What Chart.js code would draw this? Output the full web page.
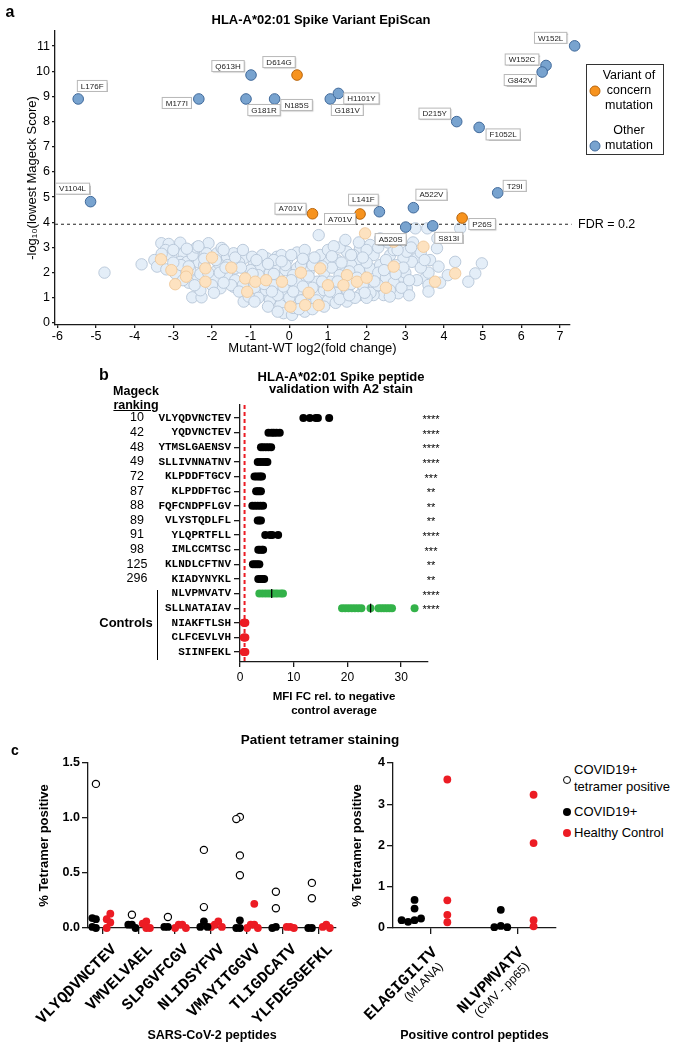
<!DOCTYPE html>
<html lang="en">
<head>
<meta charset="UTF-8">
<title>HLA-A*02:01 Spike Variant EpiScan</title>
<script src="https://cdn.jsdelivr.net/npm/chart.js"></script>
<style>
  body { margin: 0; }
  #page { position: relative; width: 681px; height: 1050px; background: #fff; overflow: hidden;
          font-family: "Liberation Sans", Arial, sans-serif; color: #000; }
  #page canvas { position: absolute; }
  .t { position: absolute; white-space: nowrap; transform: translate(-50%, -50%); }
  .l { position: absolute; white-space: nowrap; }
  .bold { font-weight: bold; }
  .dot { position: absolute; border-radius: 50%; transform: translate(-50%, -50%); box-sizing: border-box; }
  .legA { position: absolute; left: 586px; top: 64px; width: 78px; height: 91px; border: 1.3px solid #333; box-sizing: border-box; }
</style>
</head>
<body>
<div id="page">
  <canvas id="chartA" width="681" height="360" style="left:0;top:0"></canvas>
  <canvas id="chartB" width="681" height="365" style="left:0;top:360px"></canvas>
  <canvas id="chartC1" width="345" height="325" style="left:0;top:725px"></canvas>
  <canvas id="chartC2" width="215" height="325" style="left:345px;top:725px"></canvas>

  <!-- panel a -->
  <div class="t bold" style="left:10px;top:12px;font-size:16px">a</div>
  <div class="t bold" style="left:321px;top:19px;font-size:13px">HLA-A*02:01 Spike Variant EpiScan</div>
  <div class="legA"></div>
  <div class="dot" style="left:595px;top:91px;width:11px;height:11px;background:#f7931e;border:1px solid #b8650c"></div>
  <div class="t" style="left:629px;top:75px;font-size:12.5px">Variant of</div>
  <div class="t" style="left:629px;top:90px;font-size:12.5px">concern</div>
  <div class="t" style="left:629px;top:105px;font-size:12.5px">mutation</div>
  <div class="dot" style="left:595px;top:146px;width:11px;height:11px;background:#78a3cf;border:1px solid #40699a"></div>
  <div class="t" style="left:629px;top:130px;font-size:12.5px">Other</div>
  <div class="t" style="left:629px;top:145px;font-size:12.5px">mutation</div>

  <!-- panel b -->
  <div class="t bold" style="left:104px;top:375px;font-size:16px">b</div>
  <div class="t bold" style="left:136px;top:391px;font-size:12.5px">Mageck</div>
  <div class="t bold" style="left:136px;top:405px;font-size:12.5px;text-decoration:underline">ranking</div>
  <div class="t bold" style="left:341px;top:382px;font-size:13px;line-height:11.5px;text-align:center">HLA-A*02:01 Spike peptide<br>validation with A2 stain</div>
  <div class="t bold" style="left:126px;top:622px;font-size:13px">Controls</div>
  <div style="position:absolute;left:157px;top:590px;width:1.3px;height:70px;background:#000"></div>

  <!-- panel c -->
  <div class="t bold" style="left:320px;top:739px;font-size:13.5px">Patient tetramer staining</div>
  <div class="t bold" style="left:15px;top:750px;font-size:14px">c</div>
  <div class="dot" style="left:567px;top:780px;width:8px;height:8px;background:#fff;border:1.2px solid #000"></div>
  <div class="l" style="left:574px;top:762px;font-size:13px;line-height:16.6px">COVID19+<br>tetramer positive</div>
  <div class="dot" style="left:567px;top:812px;width:8px;height:8px;background:#000"></div>
  <div class="l" style="left:574px;top:803px;font-size:13px;line-height:17px">COVID19+</div>
  <div class="dot" style="left:567px;top:833px;width:8px;height:8px;background:#ec1c24"></div>
  <div class="l" style="left:574px;top:824px;font-size:13px;line-height:17px">Healthy Control</div>
</div>

<script>
// ---------- panel a: EpiScan volcano ----------
const xTicksA = [-6, -5, -4, -3, -2, -1, 0, 1, 2, 3, 4, 5, 6, 7];
const yTicksA = [0, 1, 2, 3, 4, 5, 6, 7, 8, 9, 10, 11];
const fdrCutoff = 3.92;

const otherHitLabels = ['L176F', 'M177I', 'Q613H', 'G181R', 'N185S', 'G181V', 'H1101Y', 'V1104L', 'L141F',
  'A522V', 'T29I', 'A520S', 'S813I', 'D215Y', 'F1052L', 'W152L', 'W152C', 'G842V'];
const otherHitX = [-5.46, -2.34, -0.99, -1.12, -0.38, 1.06, 1.27, -5.14, 2.33, 3.21, 5.39, 3.01, 3.71, 4.33, 4.91, 7.38, 6.64, 6.54];
const otherHitY = [8.9, 8.9, 9.85, 8.9, 8.9, 8.9, 9.12, 4.82, 4.42, 4.58, 5.17, 3.81, 3.86, 8.0, 7.77, 11.01, 10.23, 9.97];

const vocHitLabels = ['D614G', 'A701V', 'A701V', 'P26S'];
const vocHitX = [0.2, 0.6, 1.83, 4.47];
const vocHitY = [9.85, 4.34, 4.33, 4.17];

// non-significant mutations (x = log2 FC, y = -log10 score)
const bgOther = [
  [-4.78, 2.0], [-3.82, 2.33], [-3.31, 3.17], [-3.12, 3.14], [-2.82, 3.19], [-2.09, 3.17], [-3.49, 2.5], [-3.42, 2.24],
  [-3.18, 2.13], [-3.2, 2.9], [-3.05, 2.66], [-2.95, 1.97], [-2.73, 2.77], [-2.82, 2.43], [-2.64, 2.43], [-2.56, 2.1],
  [-2.47, 2.77], [-2.34, 2.41], [-2.51, 1.02], [-2.27, 1.02], [-2.38, 1.71], [-2.14, 2.77], [-2.04, 1.84], [-1.87, 2.77],
  [-1.91, 2.04], [-1.83, 2.37], [-1.91, 1.73], [-1.78, 1.38], [-1.65, 1.97], [-1.61, 2.63],
  [0.76, 3.49], [-1.75, 2.98], [-1.44, 2.77], [-1.18, 2.57], [-0.96, 2.63], [-0.92, 2.3], [-0.58, 2.57], [-0.75, 2.24],
  [-1.4, 2.17], [-1.61, 1.9], [-1.44, 1.44], [-1.18, 0.85], [-0.92, 1.24], [-0.66, 1.64], [-0.71, 1.11], [-0.41, 1.04],
  [-0.36, 2.17], [-0.32, 2.63], [-0.06, 2.5], [-0.1, 2.1], [-0.06, 1.51], [-0.23, 0.71], [-0.15, 0.39], [0.07, 0.32],
  [0.16, 0.85], [0.2, 2.17], [0.24, 1.31], [0.46, 2.57], [0.5, 2.04], [0.41, 1.64], [0.5, 1.11], [0.54, 0.71],
  [0.72, 1.64], [0.76, 1.11], [0.97, 2.43], [1.23, 2.5], [1.06, 1.64], [1.19, 1.38], [1.4, 1.77], [1.49, 2.83], [1.36, 1.11],
  [3.26, 3.76], [3.57, 3.76], [3.83, 3.36], [4.42, 3.76], [3.82, 2.97], [3.64, 2.5], [3.86, 2.24], [4.29, 2.43],
  [4.98, 2.37], [4.81, 1.97], [4.63, 1.64], [3.51, 1.77], [3.6, 1.51], [3.04, 1.38], [2.82, 1.18], [3.3, 2.57],
  [3.17, 2.43], [2.95, 2.57], [2.82, 2.04], [2.91, 1.84], [2.44, 1.11], [2.18, 1.38], [2.44, 1.64], [1.49, 0.85],
  [2.35, 3.36], [2.09, 3.1], [1.83, 2.97], [1.66, 2.7], [2.18, 2.7], [2.61, 2.7], [2.7, 2.9], [3.04, 2.83],
  [1.83, 2.43], [2.09, 2.17], [2.35, 2.3], [1.32, 2.17], [1.4, 1.44], [1.92, 1.38], [1.83, 1.11], [2.18, 1.11],
  [-1.6, 2.3], [-1.3, 2.4], [-1.0, 2.1], [-0.8, 1.9], [-0.5, 2.0], [-0.3, 1.8], [-0.1, 2.3], [0.1, 1.9],
  [0.3, 2.3], [0.6, 2.3], [0.9, 2.0], [1.1, 2.2], [1.3, 1.9], [1.6, 2.3], [1.8, 2.1], [2.0, 2.4],
  [2.3, 2.0], [2.5, 1.8], [2.7, 1.6], [-1.4, 1.7], [-1.2, 1.5], [-0.9, 1.4], [-0.6, 1.3], [-0.4, 1.5],
  [-0.2, 1.2], [0.0, 1.0], [0.2, 1.6], [0.3, 0.9], [0.6, 1.4], [0.9, 1.3], [1.0, 0.9], [1.2, 1.2],
  [1.5, 1.3], [1.7, 1.0], [1.9, 1.5], [2.1, 1.2], [2.3, 1.5], [2.6, 1.3], [-0.5, 0.9], [-0.3, 1.1],
  [0.1, 0.6], [0.4, 0.45], [0.7, 0.9], [1.2, 0.8], [-0.8, 1.0], [-1.5, 1.5], [-1.8, 2.0], [-2.2, 2.3],
  [-2.0, 1.5], [-2.3, 1.3], [-2.6, 1.6], [-2.8, 2.3], [-3.0, 2.4], [-2.5, 2.7], [-1.9, 2.5], [-1.4, 2.6],
  [-0.7, 2.7], [-0.2, 2.7], [0.2, 2.8], [0.4, 2.9], [0.8, 2.7], [1.0, 2.9], [1.3, 3.0], [1.6, 2.7],
  [1.8, 3.2], [2.0, 2.9], [2.3, 3.0], [2.5, 2.5], [2.8, 2.9], [3.2, 3.2], [3.4, 2.8], [3.0, 2.0],
  [3.3, 1.7], [3.6, 2.0], [3.9, 1.6], [4.1, 1.9], [3.6, 1.25], [2.9, 1.4], [3.1, 1.1], [2.6, 1.05],
  [-1.7, 2.9], [-2.4, 3.0], [-1.2, 2.9], [-0.4, 2.5], [1.45, 3.3], [1.15, 3.05],
  [-3.3, 2.75], [-3.0, 2.9], [-2.65, 2.95], [-2.35, 3.05], [-2.2, 2.55], [-2.6, 2.25], [-2.3, 1.95], [-2.1, 2.0],
  [-2.45, 1.5], [-2.75, 1.7], [-1.95, 1.2], [-1.7, 1.6], [-1.65, 2.2], [-1.25, 2.2], [-1.05, 1.8], [-0.85, 2.5],
  [-0.55, 2.35], [-0.2, 2.45], [0.05, 2.7], [0.35, 2.55], [0.65, 2.6], [0.85, 2.25], [1.1, 2.65], [1.35, 2.4],
  [1.55, 2.05], [1.75, 1.8], [1.6, 1.55], [1.05, 1.25], [0.85, 1.65], [0.35, 1.45], [0.1, 1.25], [-0.15, 1.45],
  [-0.45, 1.25], [-0.65, 1.55], [-1.05, 1.05], [-1.3, 1.25], [-0.9, 0.85], [-0.55, 0.65], [-0.3, 0.45], [0.25, 0.55],
  [0.6, 0.55], [0.9, 0.65], [1.3, 0.95], [1.55, 1.1], [2.0, 1.0], [2.2, 1.65], [2.45, 2.1], [2.75, 2.3],
  [2.95, 2.2], [3.1, 1.7], [3.4, 2.2], [3.5, 2.5], [3.15, 3.0], [2.55, 3.2], [1.9, 2.6], [0.5, 1.85],
  [0.05, 1.7], [-0.4, 1.95], [-0.95, 1.95], [1.25, 1.65], [1.95, 1.2], [2.75, 1.95]
];
const bgVoc = [
  [-3.32, 2.53], [-2.95, 1.54], [-3.05, 2.1], [-2.64, 2.04], [-2.67, 1.84], [-2.17, 1.64], [-2.17, 2.17], [-1.14, 1.77],
  [-1.09, 1.24], [-0.88, 1.64], [-0.19, 1.64], [0.03, 0.65], [0.41, 0.71], [0.76, 0.71], [0.8, 2.17], [1.96, 3.56],
  [2.7, 3.23], [3.47, 3.03], [4.29, 1.97], [3.77, 1.64], [2.7, 2.24], [1.49, 1.9], [1.75, 1.64], [-1.5, 2.2],
  [-0.6, 1.7], [0.5, 1.2], [1.4, 1.5], [2.0, 1.8], [1.0, 1.5], [-2.0, 2.6], [0.3, 2.0], [2.5, 1.4]
];

// ---------- panel b: A2 stain validation ----------
const rankings = [10, 42, 48, 49, 72, 87, 88, 89, 91, 98, 125, 296];
const peptidesB = ['VLYQDVNCTEV', 'YQDVNCTEV', 'YTMSLGAENSV', 'SLLIVNNATNV', 'KLPDDFTGCV', 'KLPDDFTGC',
  'FQFCNDPFLGV', 'VLYSTQDLFL', 'YLQPRTFLL', 'IMLCCMTSC', 'KLNDLCFTNV', 'KIADYNYKL',
  'NLVPMVATV', 'SLLNATAIAV', 'NIAKFTLSH', 'CLFCEVLVH', 'SIINFEKL'];
const significance = ['****', '****', '****', '****', '***', '**', '**', '**', '****', '***', '**', '**', '****', '****'];
const mfiFC = [
  [11.8, 13.0, 14.1, 14.5, 16.6],
  [5.3, 5.9, 6.3, 6.8, 7.4],
  [3.9, 4.3, 4.8, 5.3, 5.8],
  [3.3, 3.8, 4.3, 4.8, 5.1],
  [2.7, 3.1, 3.5, 3.8, 4.1],
  [3.0, 3.3, 3.6, 3.9],
  [2.3, 2.8, 3.3, 3.8, 4.3],
  [3.3, 3.6, 3.9],
  [4.7, 5.6, 6.0, 7.1],
  [3.4, 3.7, 4.1, 4.3],
  [2.4, 2.8, 3.2, 3.6],
  [3.4, 3.8, 4.2, 4.5],
  [3.6, 4.2, 4.8, 5.4, 6.0, 6.5, 7.0, 7.6, 8.0],
  [19.0, 19.6, 20.2, 20.8, 21.4, 22.0, 22.6, 24.3, 25.8, 26.3, 26.8, 27.3, 27.8, 28.3, 32.5],
  [0.7, 0.8, 0.9, 1.0],
  [0.7, 0.85, 1.0],
  [0.7, 0.85, 1.0]
];
const negCtrlLine = 0.85;
const xTicksB = [0, 10, 20, 30];

// ---------- panel c: patient tetramer staining ----------
const sarsPeptides = ['VLYQDVNCTEV', 'VMVELVAEL', 'SLPGVFCGV', 'NLIDSYFVV', 'VMAYITGGVV', 'TLIGDCATV', 'YLFDESGEFKL'];
const sarsTetPos = [[1.31], [0.12], [0.10], [0.71, 0.19], [1.01, 0.99, 0.66, 0.48], [0.33, 0.18], [0.41, 0.27]];
const sarsCovid = [[0.08, 0.09, 0.0, 0.01], [0.03, 0.03, 0.0], [0.01, 0.01], [0.06, 0.01, 0.01],
  [0.07, 0.0, 0.0], [0.01, 0.0], [0.0, 0.0]];
const sarsHealthy = [[0.13, 0.08, 0.05, 0.0], [0.06, 0.04, 0.0, 0.0], [0.03, 0.03, 0.0, 0.0], [0.06, 0.03, 0.01, 0.01],
  [0.22, 0.03, 0.03, 0.0, 0.0], [0.01, 0.01, 0.0], [0.03, 0.01, 0.0]];
const yTicksC1 = [0, 0.5, 1, 1.5];

const ctrlPeptides = ['ELAGIGILTV', 'NLVPMVATV'];
const ctrlSources = ['(MLANA)', '(CMV - pp65)'];
const ctrlCovid = [[0.19, 0.15, 0.23, 0.19, 0.47, 0.68], [0.05, 0.02, 0.02, 0.44]];
const ctrlHealthy = [[3.6, 0.67, 0.32, 0.14], [3.23, 2.06, 0.19, 0.04]];
const yTicksC2 = [0, 1, 2, 3, 4];

// label box offsets (px) for the named hits in panel a
const otherHitShift = [[14, -13], [-22, 4], [-23, -9], [18, 11], [22, 6], [17, 11], [23, 5], [-18, -13], [-16, -12],
  [18, -13], [17, -7], [-15, 12], [16, 12], [-22, -8], [24, 7], [-24, -8], [-24, -6], [-22, 8]];
const vocHitShift = [[-18, -13], [-22, -5], [-20, 5], [20, 6]];

Chart.defaults.font.family = '"Liberation Sans", Arial, sans-serif';
Chart.defaults.color = '#000';

const INK = '#1a1a1a';
const toXY = (xs, ys) => xs.map((x, i) => ({ x, y: ys[i] }));
const pairs = arr => arr.map(([x, y]) => ({ x, y }));

function axis(o) {
  return {
    type: 'linear',
    min: o.min, max: o.max, reverse: !!o.reverse,
    border: { display: true, color: INK, width: 1.3 },
    grid: { display: true, drawOnChartArea: false, drawTicks: true, tickLength: o.tickLength || 4, color: INK, lineWidth: 1.3 },
    ticks: {
      display: o.showTicks !== false, autoSkip: false, padding: o.pad ?? 2, color: '#000',
      font: o.font || { size: 12.5 }, callback: o.label || (v => v)
    },
    afterBuildTicks: s => { s.ticks = o.ticks.map(v => ({ value: v })); },
    afterFit: s => { if (o.width) s.width = o.width; if (o.height) s.height = o.height; },
    title: o.title || { display: false }
  };
}

const baseOpts = {
  responsive: false, maintainAspectRatio: false, animation: false, events: [],
  plugins: { legend: { display: false }, tooltip: { enabled: false } }
};

// ----- panel a plugins -----
const hitLabels = {
  id: 'hitLabels',
  afterDatasetsDraw(chart) {
    const { ctx } = chart;
    chart.data.datasets.forEach((ds, di) => {
      if (!ds.pointNames) return;
      chart.getDatasetMeta(di).data.forEach((pt, i) => {
        const name = ds.pointNames[i];
        const [dx, dy] = ds.labelShift[i];
        ctx.save();
        ctx.font = '8px "Liberation Sans", Arial';
        const w = ctx.measureText(name).width + 7, h = 11;
        const cx = pt.x + dx, cy = pt.y + dy;
        ctx.shadowColor = 'rgba(0,0,0,0.25)';
        ctx.shadowOffsetX = 1; ctx.shadowOffsetY = 1; ctx.shadowBlur = 1;
        ctx.fillStyle = '#fff';
        ctx.fillRect(cx - w / 2, cy - h / 2, w, h);
        ctx.shadowColor = 'transparent';
        ctx.strokeStyle = '#b8b8b8'; ctx.lineWidth = 1;
        ctx.strokeRect(cx - w / 2, cy - h / 2, w, h);
        ctx.fillStyle = '#222'; ctx.textAlign = 'center'; ctx.textBaseline = 'middle';
        ctx.fillText(name, cx, cy + 0.5);
        ctx.restore();
      });
    });
    const y = chart.scales.y.getPixelForValue(fdrCutoff);
    ctx.save();
    ctx.font = '12.5px "Liberation Sans", Arial';
    ctx.fillStyle = '#000'; ctx.textBaseline = 'middle';
    ctx.fillText('FDR = 0.2', chart.chartArea.right + 8, y);
    ctx.restore();
  }
};

new Chart(document.getElementById('chartA'), {
  type: 'scatter',
  data: {
    datasets: [
      { label: 'Other mutation', data: toXY(otherHitX, otherHitY), pointNames: otherHitLabels, labelShift: otherHitShift,
        backgroundColor: '#78a3cf', borderColor: '#40699a', borderWidth: 1, pointRadius: 5.3, order: 1, clip: false },
      { label: 'Variant of concern mutation', data: toXY(vocHitX, vocHitY), pointNames: vocHitLabels, labelShift: vocHitShift,
        backgroundColor: '#f7931e', borderColor: '#b8650c', borderWidth: 1, pointRadius: 5.3, order: 2, clip: false },
      { label: 'FDR = 0.2', type: 'line', data: [{ x: -6.06, y: fdrCutoff }, { x: 7.3, y: fdrCutoff }],
        borderColor: '#555', borderWidth: 1.3, borderDash: [3, 3], pointRadius: 0, order: 3, clip: false },
      { label: 'VOC (n.s.)', data: pairs(bgVoc), backgroundColor: '#fde2c0', borderColor: '#efc89a',
        borderWidth: 0.9, pointRadius: 5.7, order: 4, clip: false },
      { label: 'Other (n.s.)', data: pairs(bgOther), backgroundColor: '#e4eef8', borderColor: '#b5c5d7',
        borderWidth: 0.9, pointRadius: 5.7, order: 5, clip: false }
    ]
  },
  options: {
    ...baseOpts,
    layout: { padding: { left: 0, top: 31, right: 111, bottom: 0 } },
    scales: {
      x: axis({ min: -6.06, max: 7.26, ticks: xTicksA, height: 35, tickLength: 3, pad: 1,
        title: { display: true, text: 'Mutant-WT log2(fold change)', font: { size: 13 }, padding: { top: 0, bottom: 4 } } }),
      y: axis({ min: -0.08, max: 11.6, ticks: yTicksA, width: 55, tickLength: 3, pad: 2,
        title: { display: true, text: '-log\u2081\u2080(lowest Mageck Score)', font: { size: 13 }, padding: { top: 25, bottom: 0 } } })
    }
  },
  plugins: [hitLabels]
});

// ----- panel b -----
const rowColor = i => (i < 12 ? '#000' : i < 14 ? '#33b249' : '#ec1c24');
const rowPoints = rows => rows.flatMap(i => mfiFC[i].map(v => ({ x: v, y: i })));
const idx = (a, b) => Array.from({ length: b - a }, (_, k) => a + k);
const meanOf = vals => vals.reduce((s, v) => s + v, 0) / vals.length;
const means = [12, 13].map(i => ({ x: meanOf(mfiFC[i]), y: i }));

const rowNotes = {
  id: 'rowNotes',
  afterDraw(chart) {
    const { ctx } = chart;
    const y = chart.scales.y;
    ctx.save();
    ctx.fillStyle = '#000'; ctx.textAlign = 'center'; ctx.textBaseline = 'middle';
    ctx.font = '12.5px "Liberation Sans", Arial';
    rankings.forEach((r, i) => ctx.fillText(String(r), 137, y.getPixelForValue(i)));
    ctx.font = '11px "Liberation Sans", Arial';
    significance.forEach((s, i) => ctx.fillText(s, 431, y.getPixelForValue(i) + 2));
    ctx.restore();
  }
};

new Chart(document.getElementById('chartB'), {
  type: 'scatter',
  data: {
    datasets: [
      { label: 'mean', data: means, pointStyle: 'line', rotation: 90, pointRadius: 4.5, borderColor: '#000',
        borderWidth: 1.3, order: 0, clip: false },
      { label: 'Spike peptides', data: rowPoints(idx(0, 12)), backgroundColor: rowColor(0), borderWidth: 0,
        pointRadius: 4, order: 1, clip: false },
      { label: 'Positive controls', data: rowPoints([12, 13]), backgroundColor: rowColor(12), borderWidth: 0,
        pointRadius: 4, order: 2, clip: false },
      { label: 'Negative controls', data: rowPoints([14, 15, 16]), backgroundColor: rowColor(14), borderWidth: 0,
        pointRadius: 4, order: 3, clip: false },
      { label: 'Negative control average', type: 'line',
        data: [{ x: negCtrlLine, y: -0.89 }, { x: negCtrlLine, y: 16.68 }],
        borderColor: '#ec1c24', borderWidth: 2, borderDash: [4, 3], pointRadius: 0, order: 4 }
    ]
  },
  options: {
    ...baseOpts,
    layout: { padding: { left: 0, top: 45, right: 253, bottom: 0 } },
    scales: {
      x: axis({ min: 0, max: 35, ticks: xTicksB, height: 63, tickLength: 5, pad: 3, font: { size: 12 },
        title: { display: true, text: ['MFI FC rel. to negative', 'control average'],
          font: { size: 11.5, weight: 'bold' }, padding: { top: 0, bottom: 7 } } }),
      y: axis({ min: -0.89, max: 16.68, reverse: true, ticks: idx(0, 17), width: 240, tickLength: 6, pad: 3,
        font: { family: '"Liberation Mono", monospace', size: 11, weight: 'bold' },
        label: v => peptidesB[v] })
    }
  },
  plugins: [rowNotes]
});

// ----- panel c -----
function swarm(values, center, step, tol) {
  const placed = [];
  values.forEach(v => {
    const near = placed.filter(p => Math.abs(p.y - v) < tol);
    const slot = [0, -1, 1, -2, 2, -3, 3].find(k =>
      near.every(p => Math.abs(p.x - (center + k * step)) > step * 0.5)) ?? 0;
    placed.push({ x: center + slot * step, y: v });
  });
  return placed;
}

const slantLabels = {
  id: 'slantLabels',
  afterDraw(chart, args, opts) {
    const { ctx } = chart;
    const xs = chart.scales.x;
    const base = chart.chartArea.bottom;
    opts.names.forEach((name, i) => {
      ctx.save();
      ctx.translate(xs.getPixelForValue(i) + opts.dx, base + opts.dy);
      ctx.rotate(-Math.PI / 4);
      ctx.fillStyle = '#000'; ctx.textAlign = 'right'; ctx.textBaseline = 'middle';
      ctx.font = 'bold 16px "Liberation Mono", monospace';
      ctx.fillText(name, 0, 0);
      if (opts.subs) {
        ctx.font = '12px "Liberation Sans", Arial';
        ctx.fillText(opts.subs[i], -6, 15);
      }
      ctx.restore();
    });
  }
};

const openStyle = { backgroundColor: '#fff', borderColor: '#000', borderWidth: 1.2, pointRadius: 3.6, clip: false };
const blackStyle = { backgroundColor: '#000', borderWidth: 0, pointRadius: 3.9, clip: false };
const redStyle = { backgroundColor: '#ec1c24', borderWidth: 0, pointRadius: 3.9, clip: false };

new Chart(document.getElementById('chartC1'), {
  type: 'scatter',
  data: {
    datasets: [
      { label: 'COVID19+ tetramer positive', data: sarsTetPos.flatMap((v, i) => swarm(v, i - 0.2, 0.1, 0.06)), ...openStyle },
      { label: 'COVID19+', data: sarsCovid.flatMap((v, i) => swarm(v, i - 0.2, 0.1, 0.06)), ...blackStyle },
      { label: 'Healthy Control', data: sarsHealthy.flatMap((v, i) => swarm(v, i + 0.2, 0.1, 0.06)), ...redStyle }
    ]
  },
  options: {
    ...baseOpts,
    layout: { padding: { left: 0, top: 38, right: 9, bottom: 0 } },
    plugins: { ...baseOpts.plugins, slantLabels: { names: sarsPeptides, dx: 11, dy: 19 } },
    scales: {
      x: axis({ min: -0.42, max: 6.47, ticks: idx(0, 7), height: 122, tickLength: 6, showTicks: false,
        title: { display: true, text: 'SARS-CoV-2 peptides', font: { size: 12.5, weight: 'bold' }, padding: { top: 0, bottom: 6.5 } } }),
      y: axis({ min: 0, max: 1.5, ticks: yTicksC1, width: 88, tickLength: 6, pad: 2,
        font: { size: 12.5, weight: 'bold' }, label: v => v.toFixed(1),
        title: { display: true, text: '% Tetramer positive', font: { size: 13, weight: 'bold' }, padding: { top: 37, bottom: 0 } } })
    }
  },
  plugins: [slantLabels]
});

new Chart(document.getElementById('chartC2'), {
  type: 'scatter',
  data: {
    datasets: [
      { label: 'COVID19+', data: ctrlCovid.flatMap((v, i) => swarm(v, i - 0.19, 0.075, 0.15)), ...blackStyle },
      { label: 'Healthy Control', data: ctrlHealthy.flatMap((v, i) => swarm(v, i + 0.19, 0.075, 0.15)), ...redStyle }
    ]
  },
  options: {
    ...baseOpts,
    layout: { padding: { left: 0, top: 38, right: 2, bottom: 0 } },
    plugins: { ...baseOpts.plugins, slantLabels: { names: ctrlPeptides, subs: ctrlSources, dx: 4, dy: 22 } },
    scales: {
      x: axis({ min: -0.44, max: 1.45, ticks: [0, 1], height: 122, tickLength: 6, showTicks: false,
        title: { display: true, text: 'Positive control peptides', font: { size: 12.5, weight: 'bold' }, padding: { top: 0, bottom: 6.5 } } }),
      y: axis({ min: 0, max: 4, ticks: yTicksC2, width: 48, tickLength: 6, pad: 2,
        font: { size: 12.5, weight: 'bold' },
        title: { display: true, text: '% Tetramer positive', font: { size: 13, weight: 'bold' }, padding: { top: 5, bottom: 0 } } })
    }
  },
  plugins: [slantLabels]
});
</script>
</body>
</html>
